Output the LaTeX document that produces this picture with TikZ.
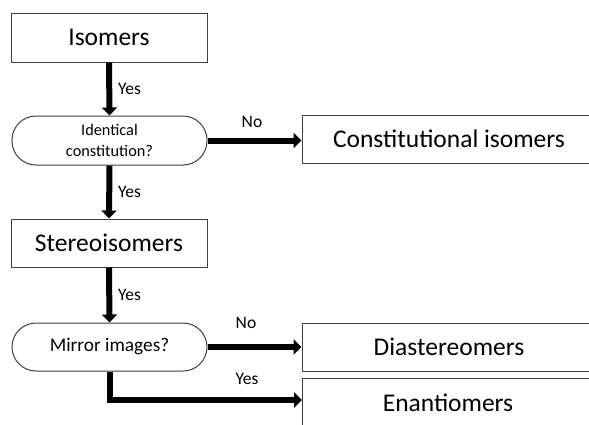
\documentclass[tikz,border=0pt]{standalone}
\usepackage{fontspec}
\setmainfont{Carlito}
\usetikzlibrary{arrows.meta}
\tikzset{
  boxnode/.style={draw=black!75, line width=1pt, fill=white, inner sep=0pt, font=\fontsize{25.5}{30}\selectfont},
  stadium/.style={draw=black!75, line width=1pt, fill=white, inner sep=0pt, rounded corners=24pt, align=center},
  flow/.style={line width=6pt, -{Triangle[width=15pt,length=8pt]}},
  lbl/.style={font=\fontsize{17.5}{20}\selectfont, inner sep=0pt}
}
\begin{document}
\begin{tikzpicture}[x=1pt,y=-1pt]
\clip (0,0) rectangle (589,424);
\fill[white] (0,0) rectangle (589,424);
\node[boxnode, minimum width=196pt, minimum height=49pt] (iso) at (109,37.5) {Isomers};
\node[stadium, minimum width=195pt, minimum height=49pt, font=\fontsize{16.3}{21.5}\selectfont] (q1) at (109.5,140.5) {Identical\\constitution?};
\node[boxnode, minimum width=294pt, minimum height=48pt] (const) at (449,139) {Constitutional isomers};
\node[boxnode, minimum width=196pt, minimum height=48pt] (stereo) at (109,243) {Stereoisomers};
\node[stadium, minimum width=195pt, minimum height=48pt, font=\fontsize{19.3}{22}\selectfont] (q2) at (109.5,347) {Mirror images?};
\node[boxnode, minimum width=294pt, minimum height=48pt] (dia) at (449,347) {Diastereomers};
\node[boxnode, minimum width=294pt, minimum height=52pt, anchor=north] (enan) at (449,378) {};
\node[font=\fontsize{25.5}{30}\selectfont, inner sep=0pt] (enantext) at (448,403) {Enantiomers};

\draw[flow] (iso.south) -- (q1.north);
\draw[flow] (q1.east) -- (const.west |- q1.east);
\draw[flow] (q1.south) -- (stereo.north);
\draw[flow] (stereo.south) -- (q2.north);
\draw[flow] (q2.east) -- (dia.west |- q2.east);
\coordinate (enanin) at (302,400);
\draw[flow] (q2.south) |- (enanin);

\node[lbl, anchor=west] (y1) at (118,89) {Yes};
\node[lbl, anchor=west] (y2) at (118,192) {Yes};
\node[lbl, anchor=west] (y3) at (118,295) {Yes};
\node[lbl] (n1) at (252,122) {No};
\node[lbl] (n2) at (246,323) {No};
\node[lbl] (y4) at (247,379) {Yes};
\end{tikzpicture}
\end{document}
